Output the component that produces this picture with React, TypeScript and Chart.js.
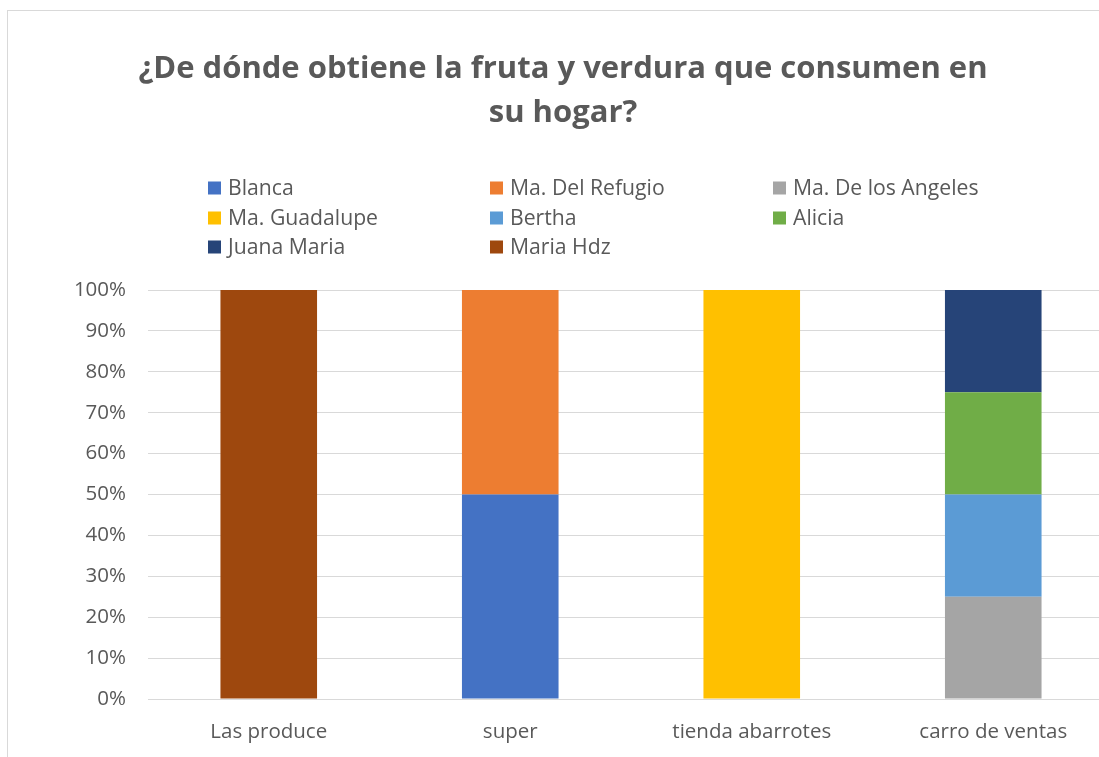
import React, { useEffect, useRef } from "react";
import { Chart, registerables } from "chart.js";

Chart.register(...registerables);

const categories = ["Las produce", "super", "tienda abarrotes", "carro de ventas"];
const seriesNames = ["Blanca", "Ma. Del Refugio", "Ma. De los Angeles", "Ma. Guadalupe", "Bertha", "Alicia", "Juana Maria", "Maria Hdz"];
const blanca = [0, 50, 0, 0];
const refugio = [0, 50, 0, 0];
const angeles = [0, 0, 0, 25];
const guadalupe = [0, 0, 100, 0];
const bertha = [0, 0, 0, 25];
const alicia = [0, 0, 0, 25];
const juana = [0, 0, 0, 25];
const mariaHdz = [100, 0, 0, 0];
const seriesColors = ["#4472C4", "#ED7D31", "#A5A5A5", "#FFC000", "#5B9BD5", "#70AD47", "#264478", "#9E480E"];
const titleLines = ["¿De dónde obtiene la fruta y verdura que consumen en", "su hogar?"];

const FONT = "'Open Sans', 'DejaVu Sans', sans-serif";
const TEXT = "#595959";

const headerPlugin = {
  id: "header",
  afterDraw(chart: any) {
    const ctx = chart.ctx;
    ctx.save();
    ctx.fillStyle = TEXT;
    ctx.textAlign = "center";
    ctx.textBaseline = "middle";
    ctx.font = `bold 31px ${FONT}`;
    ctx.fillText(titleLines[0], 563, 69);
    ctx.fillText(titleLines[1], 563, 113);
    // legend grid: 3 columns
    const colX = [208, 490, 773];
    const rowY = [188, 218, 247];
    ctx.font = `21.2px ${FONT}`;
    ctx.textAlign = "left";
    chart.data.datasets.forEach((ds: any, i: number) => {
      const c = i % 3;
      const r = Math.floor(i / 3);
      const x = colX[c];
      const y = rowY[r];
      ctx.fillStyle = ds.backgroundColor;
      ctx.fillRect(x, y - 6.5, 13, 13);
      ctx.fillStyle = TEXT;
      ctx.fillText(ds.label, x + 20, y + 1);
    });
    ctx.restore();
  },
};

export default function App() {
  const ref = useRef<HTMLCanvasElement>(null);
  useEffect(() => {
    const values = [blanca, refugio, angeles, guadalupe, bertha, alicia, juana, mariaHdz];
    const chart = new Chart(ref.current!, {
      type: "bar",
      data: {
        labels: categories,
        datasets: seriesNames.map((name, i) => ({
          label: name,
          data: values[i],
          backgroundColor: seriesColors[i],
          borderWidth: 0,
          barPercentage: 0.4,
          categoryPercentage: 1,
        })),
      },
      plugins: [headerPlugin],
      options: {
        animation: false,
        responsive: false,
        maintainAspectRatio: false,
        layout: { padding: { top: 290, right: 16, left: 0, bottom: 0 } },
        plugins: {
          legend: { display: false },
          title: { display: false },
          tooltip: { enabled: false },
        },
        scales: {
          x: {
            stacked: true,
            grid: { display: false, drawTicks: false },
            border: { display: false },
            ticks: { color: TEXT, font: { family: FONT, size: 20.5 }, padding: 21 },
            afterFit: (s: any) => { s.height = 58; },
          },
          y: {
            stacked: true,
            min: 0,
            max: 100,
            grid: { color: "#D9D9D9", lineWidth: 1, drawTicks: false },
            border: { display: false },
            ticks: {
              stepSize: 10,
              color: TEXT,
              font: { family: FONT, size: 20.5 },
              padding: 22,
              callback: (v: any) => v + "%",
            },
            afterFit: (s: any) => { s.width = 148; },
          },
        },
      },
    });
    return () => chart.destroy();
  }, []);
  return (
    <div style={{ position: "fixed", left: 0, top: 0, width: 1099, height: 757, overflow: "hidden", background: "#fff" }}>
      <div style={{ position: "absolute", left: 7, top: 10, width: 1200, height: 900, border: "1px solid #D9D9D9", boxSizing: "border-box" }} />
      <canvas ref={ref} width={1130} height={757} style={{ position: "absolute", left: 0, top: 0, width: 1130, height: 757 }} />
    </div>
  );
}
